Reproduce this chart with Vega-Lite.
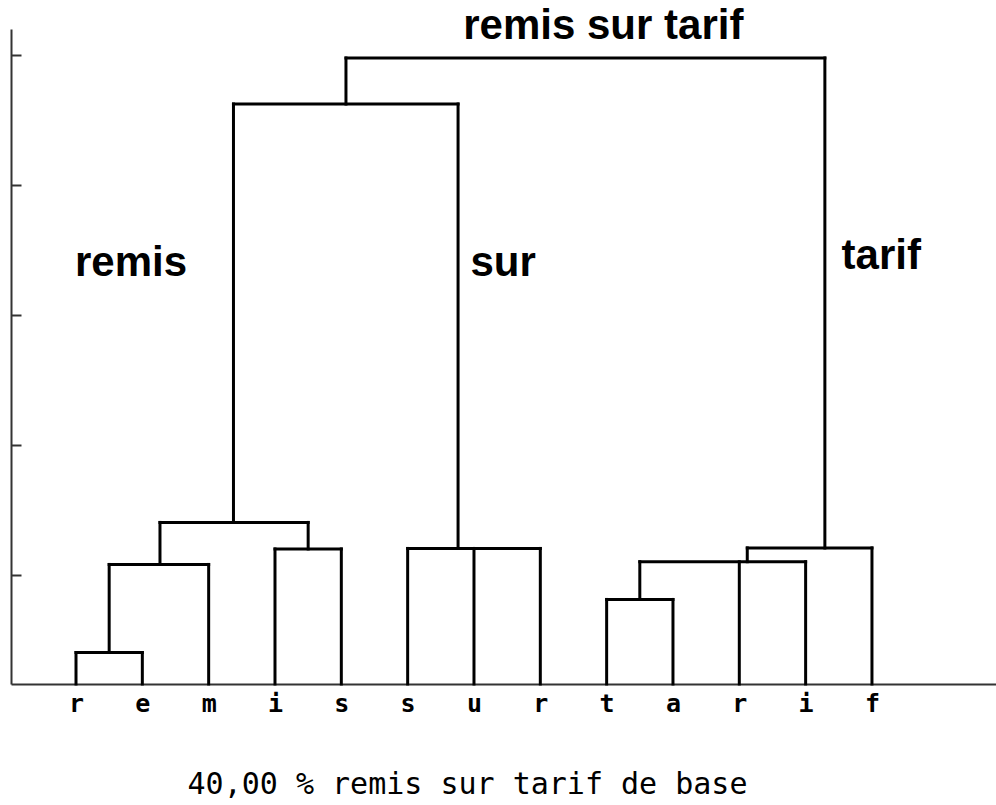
{
  "$schema": "https://vega.github.io/schema/vega-lite/v6.json",
  "width": 985,
  "height": 655,
  "autosize": {"type": "none"},
  "padding": {"left": 11, "top": 29, "right": 0, "bottom": 121},
  "background": "white",
  "config": {"view": {"stroke": null}},
  "datasets": {
    "segments": [
      {"x": 0, "x2": 0, "y": -0.838, "y2": -0.596},
      {"x": 1, "x2": 1, "y": -0.838, "y2": -0.596},
      {"x": 0, "x2": 1, "y": -0.596, "y2": -0.596},
      {"x": 0.5, "x2": 0.5, "y": -0.596, "y2": 0.081},
      {"x": 2, "x2": 2, "y": -0.838, "y2": 0.081},
      {"x": 0.5, "x2": 2, "y": 0.081, "y2": 0.081},
      {"x": 1.266, "x2": 1.266, "y": 0.081, "y2": 0.404},
      {"x": 3, "x2": 3, "y": -0.838, "y2": 0.2},
      {"x": 4, "x2": 4, "y": -0.838, "y2": 0.2},
      {"x": 3, "x2": 4, "y": 0.2, "y2": 0.2},
      {"x": 3.5, "x2": 3.5, "y": 0.2, "y2": 0.404},
      {"x": 1.266, "x2": 3.5, "y": 0.404, "y2": 0.404},
      {"x": 2.374, "x2": 2.374, "y": 0.404, "y2": 3.62},
      {"x": 5, "x2": 5, "y": -0.838, "y2": 0.204},
      {"x": 6, "x2": 6, "y": -0.838, "y2": 0.204},
      {"x": 7, "x2": 7, "y": -0.838, "y2": 0.204},
      {"x": 5, "x2": 7, "y": 0.204, "y2": 0.204},
      {"x": 5.76, "x2": 5.76, "y": 0.204, "y2": 3.62},
      {"x": 2.374, "x2": 5.76, "y": 3.62, "y2": 3.62},
      {"x": 4.07, "x2": 4.07, "y": 3.62, "y2": 3.974},
      {"x": 8, "x2": 8, "y": -0.838, "y2": -0.188},
      {"x": 9, "x2": 9, "y": -0.838, "y2": -0.188},
      {"x": 8, "x2": 9, "y": -0.188, "y2": -0.188},
      {"x": 8.5, "x2": 8.5, "y": -0.188, "y2": 0.102},
      {"x": 10, "x2": 10, "y": -0.838, "y2": 0.102},
      {"x": 11, "x2": 11, "y": -0.838, "y2": 0.102},
      {"x": 8.5, "x2": 11, "y": 0.102, "y2": 0.102},
      {"x": 10.12, "x2": 10.12, "y": 0.102, "y2": 0.208},
      {"x": 12, "x2": 12, "y": -0.838, "y2": 0.208},
      {"x": 10.12, "x2": 12, "y": 0.208, "y2": 0.208},
      {"x": 11.29, "x2": 11.29, "y": 0.208, "y2": 3.974},
      {"x": 4.07, "x2": 11.29, "y": 3.974, "y2": 3.974}
    ],
    "labels": [
      {"label": "remis", "x": 0.83, "y": 2.3},
      {"label": "sur", "x": 6.44, "y": 2.3},
      {"label": "tarif", "x": 12.14, "y": 2.35},
      {"label": "remis sur tarif", "x": 7.95, "y": 4.12}
    ]
  },
  "layer": [
    {
      "data": {"name": "segments"},
      "mark": {"type": "rule", "color": "black", "strokeWidth": 3, "strokeCap": "square"},
      "encoding": {
        "x": {
          "field": "x", "type": "quantitative",
          "scale": {"domain": [-0.98, 13.87], "nice": false, "zero": false},
          "axis": {
            "orient": "bottom",
            "values": [0,1,2,3,4,5,6,7,8,9,10,11,12],
            "labelExpr": "['r','e','m','i','s','s','u','r','t','a','r','i','f'][datum.value]",
            "labelFont": "DejaVu Sans Mono",
            "labelFontWeight": "bold",
            "labelFontSize": 25,
            "labelColor": "black",
            "labelPadding": 7,
            "ticks": false,
            "grid": false,
            "domainColor": "#333333",
            "domainWidth": 2,
            "title": "40,00 % remis sur tarif de base",
            "titleFont": "DejaVu Sans Mono",
            "titleFontSize": 30,
            "titleFontWeight": "normal",
            "titleColor": "black",
            "titleX": 456,
            "titleY": 100,
            "titleBaseline": "middle",
            "titleAnchor": "middle"
          }
        },
        "x2": {"field": "x2"},
        "y": {
          "field": "y", "type": "quantitative",
          "scale": {"domain": [-0.838, 4.197], "nice": false, "zero": false},
          "axis": {
            "orient": "left",
            "values": [0,1,2,3,4],
            "labels": false,
            "tickSize": -10,
            "tickColor": "#333333",
            "tickWidth": 2,
            "grid": false,
            "domainColor": "#333333",
            "domainWidth": 2,
            "title": null
          }
        },
        "y2": {"field": "y2"}
      }
    },
    {
      "data": {"name": "labels"},
      "mark": {"type": "text", "font": "Liberation Sans", "fontWeight": "bold", "fontSize": 42, "color": "black", "align": "center", "baseline": "alphabetic"},
      "encoding": {
        "x": {"field": "x", "type": "quantitative"},
        "y": {"field": "y", "type": "quantitative"},
        "text": {"field": "label"}
      }
    }
  ]
}
